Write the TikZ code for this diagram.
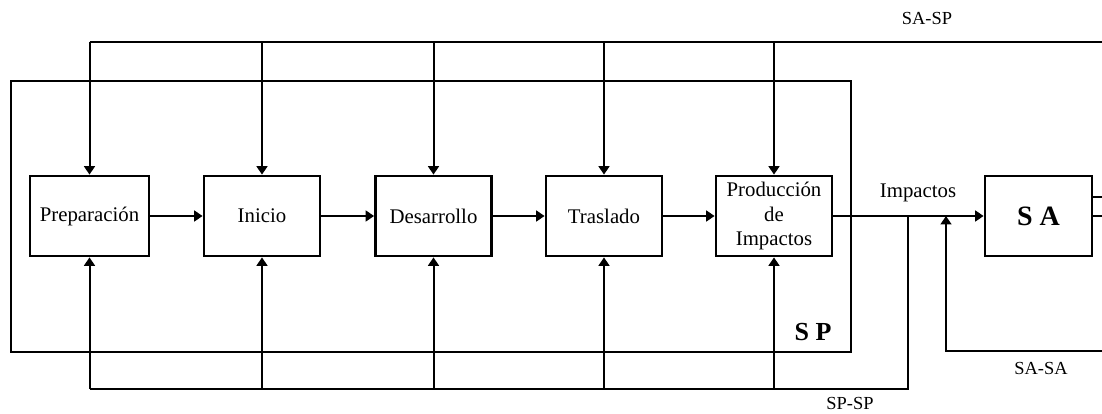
\documentclass[tikz,border=0pt]{standalone}
\usepackage{fontspec}
\setmainfont{Liberation Serif}
\usetikzlibrary{arrows.meta}
\begin{document}
\begin{tikzpicture}[x=0.5pt,y=-0.5pt,
  >={Triangle[length=4.2pt,width=5.4pt]},
  linea/.style={line width=1pt},
  caja/.style={draw,line width=1.4pt,minimum width=58pt,minimum height=40pt,
    inner sep=1pt,align=center,font=\fontsize{10.4}{12.2}\selectfont},
  etiq/.style={font=\fontsize{9.2}{11}\selectfont}]
\useasboundingbox (0,0) rectangle (1102,413);
\draw[line width=0.9pt] (11,81) rectangle (851,352);
\node[caja,minimum width=59.5pt] (prep) at (89.5,216) {Preparación};
\node[caja] (ini) at (262,216) {Inicio};
\node[caja] (des) at (433.5,216) {Desarrollo};
\node[caja] (tras) at (604,216) {Traslado};
\node[caja] (prod) at (774,216) {Producción\\de\\Impactos};
\node[caja,minimum width=53.5pt,font=\fontsize{14}{16}\selectfont\bfseries] (sa) at (1038.5,216) {S A};
\node[etiq] (lsasp) at (927,18) {SA-SP};
\node[etiq] (lspsp) at (850,403) {SP-SP};
\node[etiq] (lsasa) at (1041,368) {SA-SA};
\node[font=\fontsize{10.4}{12}\selectfont] (limp) at (918,193) {Impactos};
\node[font=\fontsize{13}{15}\selectfont\bfseries] (lsp) at (813,332) {S P};
\coordinate (arr) at (89,42);
\coordinate (der) at (1102,42);
\coordinate (aba) at (89,389);
\coordinate (nudo) at (908,216);
\coordinate (ret) at (946,351);
\coordinate (sasa) at (1102,351);
\draw[linea,line width=1.3pt] (prep.north |- arr) -- (der);
\foreach \c in {prep,ini,des,tras,prod}
  \draw[linea,->] (\c.north |- arr) -- (\c.north);
\draw[linea] (prep.south |- aba) -- (nudo |- aba) -- (nudo);
\foreach \c in {prep,ini,des,tras,prod}
  \draw[linea,->] (\c.south |- aba) -- (\c.south);
\draw[linea,->] (prep) -- (ini);
\draw[linea,->] (ini) -- (des);
\draw[linea,->] (des) -- (tras);
\draw[linea,->] (tras) -- (prod);
\draw[linea,->] (prod) -- (sa);
\draw[linea,->] (sasa) -- (ret) -- (ret |- sa.west);
\draw[linea] (sa.east) -- (sa.east -| der);
\draw[linea] ([yshift=9.5pt]sa.east) -- ([yshift=9.5pt]sa.east -| der);
\end{tikzpicture}
\end{document}
